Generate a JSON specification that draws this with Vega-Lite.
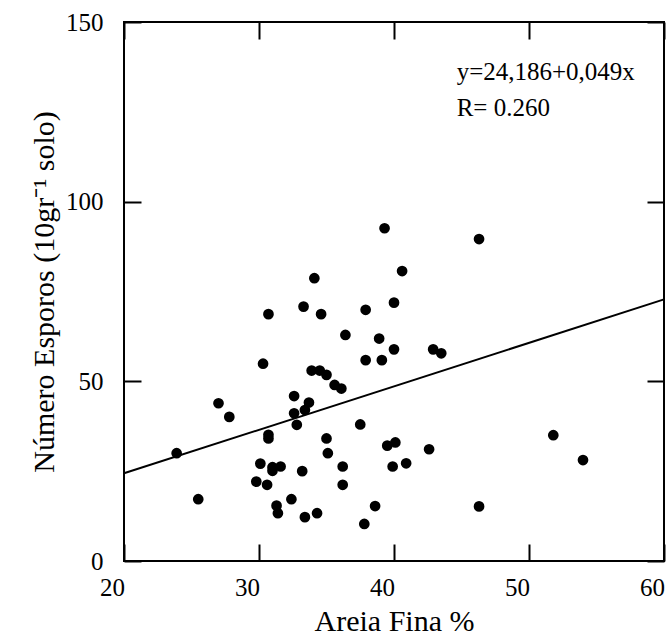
{
  "$schema": "https://vega.github.io/schema/vega-lite/v6.json",
  "width": 540,
  "height": 539,
  "autosize": {"type": "none"},
  "padding": {"left": 124, "top": 22, "right": 6, "bottom": 80},
  "background": "white",
  "config": {
    "view": {"stroke": "black", "strokeWidth": 2},
    "font": "Liberation Serif",
    "axis": {
      "domain": false,
      "grid": false,
      "tickColor": "black",
      "tickWidth": 2,
      "tickSize": -17,
      "labelFont": "Liberation Serif",
      "labelFontSize": 25,
      "labelColor": "black",
      "titleFont": "Liberation Serif",
      "titleFontSize": 30,
      "titleFontWeight": "normal",
      "titleColor": "black"
    }
  },
  "datasets": {
    "pts": [
      {"areia": 23.9, "esporos": 30.0},
      {"areia": 25.5, "esporos": 17.2},
      {"areia": 27.0, "esporos": 43.9},
      {"areia": 27.8, "esporos": 40.1},
      {"areia": 30.7, "esporos": 68.7},
      {"areia": 30.3, "esporos": 54.9},
      {"areia": 30.7, "esporos": 35.1},
      {"areia": 30.7, "esporos": 34.1},
      {"areia": 30.1, "esporos": 27.1},
      {"areia": 29.8, "esporos": 22.1},
      {"areia": 30.6, "esporos": 21.2},
      {"areia": 31.0, "esporos": 26.1},
      {"areia": 31.0, "esporos": 25.1},
      {"areia": 31.6, "esporos": 26.3},
      {"areia": 31.3, "esporos": 15.4},
      {"areia": 31.4, "esporos": 13.3},
      {"areia": 32.4, "esporos": 17.2},
      {"areia": 32.6, "esporos": 45.9},
      {"areia": 32.6, "esporos": 41.1},
      {"areia": 33.4, "esporos": 42.0},
      {"areia": 33.7, "esporos": 44.1},
      {"areia": 32.8, "esporos": 37.9},
      {"areia": 33.2, "esporos": 25.0},
      {"areia": 33.4, "esporos": 12.2},
      {"areia": 34.3, "esporos": 13.3},
      {"areia": 33.3, "esporos": 70.8},
      {"areia": 34.6, "esporos": 68.7},
      {"areia": 33.9, "esporos": 53.0},
      {"areia": 34.5, "esporos": 53.0},
      {"areia": 35.0, "esporos": 51.8},
      {"areia": 35.6, "esporos": 49.0},
      {"areia": 36.1, "esporos": 48.0},
      {"areia": 35.0, "esporos": 34.1},
      {"areia": 35.1, "esporos": 30.0},
      {"areia": 36.2, "esporos": 26.3},
      {"areia": 36.2, "esporos": 21.2},
      {"areia": 36.4, "esporos": 62.9},
      {"areia": 37.9, "esporos": 69.9},
      {"areia": 38.9, "esporos": 61.9},
      {"areia": 37.9, "esporos": 55.9},
      {"areia": 39.1, "esporos": 55.9},
      {"areia": 40.0, "esporos": 58.9},
      {"areia": 40.0, "esporos": 71.9},
      {"areia": 37.5, "esporos": 38.0},
      {"areia": 39.5, "esporos": 32.1},
      {"areia": 40.1, "esporos": 33.0},
      {"areia": 39.9, "esporos": 26.3},
      {"areia": 38.6, "esporos": 15.3},
      {"areia": 37.8, "esporos": 10.3},
      {"areia": 39.3, "esporos": 92.6},
      {"areia": 46.3, "esporos": 89.6},
      {"areia": 40.6, "esporos": 80.7},
      {"areia": 34.1, "esporos": 78.7},
      {"areia": 42.9, "esporos": 58.9},
      {"areia": 43.5, "esporos": 57.8},
      {"areia": 40.9, "esporos": 27.2},
      {"areia": 42.6, "esporos": 31.1},
      {"areia": 46.3, "esporos": 15.2},
      {"areia": 51.8, "esporos": 35.0},
      {"areia": 54.0, "esporos": 28.1}
    ],
    "fit": [
      {"x": 20, "y": 24.4},
      {"x": 60, "y": 72.8}
    ],
    "notes": [
      {"x": 44.64, "y": 133.9, "label": "y=24,186+0,049x"},
      {"x": 44.64, "y": 123.9, "label": "R= 0.260"}
    ]
  },
  "layer": [
    {
      "data": {"name": "pts"},
      "mark": {"type": "circle", "size": 115, "opacity": 1, "color": "black"},
      "encoding": {
        "x": {
          "field": "areia", "type": "quantitative",
          "scale": {"domain": [20, 60], "nice": false, "zero": false},
          "axis": {"orient": "bottom", "values": [20, 30, 40, 50, 60], "labelPadding": 31, "labelOffset": -12, "labelFlush": false, "title": "Areia Fina %", "titlePadding": 6}
        },
        "y": {
          "field": "esporos", "type": "quantitative",
          "scale": {"domain": [0, 150], "nice": false},
          "axis": {"orient": "left", "values": [0, 50, 100, 150], "labelPadding": 38, "title": "Número Esporos (10gr⁻¹ solo)", "titlePadding": 6}
        }
      }
    },
    {
      "data": {"name": "fit"},
      "mark": {"type": "line", "color": "black", "strokeWidth": 2},
      "encoding": {
        "x": {"field": "x", "type": "quantitative", "axis": {"orient": "top", "values": [20, 30, 40, 50, 60], "labels": false, "title": null}},
        "y": {"field": "y", "type": "quantitative", "axis": {"orient": "right", "values": [0, 50, 100, 150], "labels": false, "title": null}}
      }
    },
    {
      "data": {"name": "notes"},
      "mark": {"type": "text", "align": "left", "baseline": "alphabetic", "fontSize": 25, "font": "Liberation Serif", "color": "black"},
      "encoding": {
        "x": {"field": "x", "type": "quantitative", "axis": null},
        "y": {"field": "y", "type": "quantitative", "axis": null},
        "text": {"field": "label"}
      }
    }
  ],
  "resolve": {"axis": {"x": "independent", "y": "independent"}}
}
